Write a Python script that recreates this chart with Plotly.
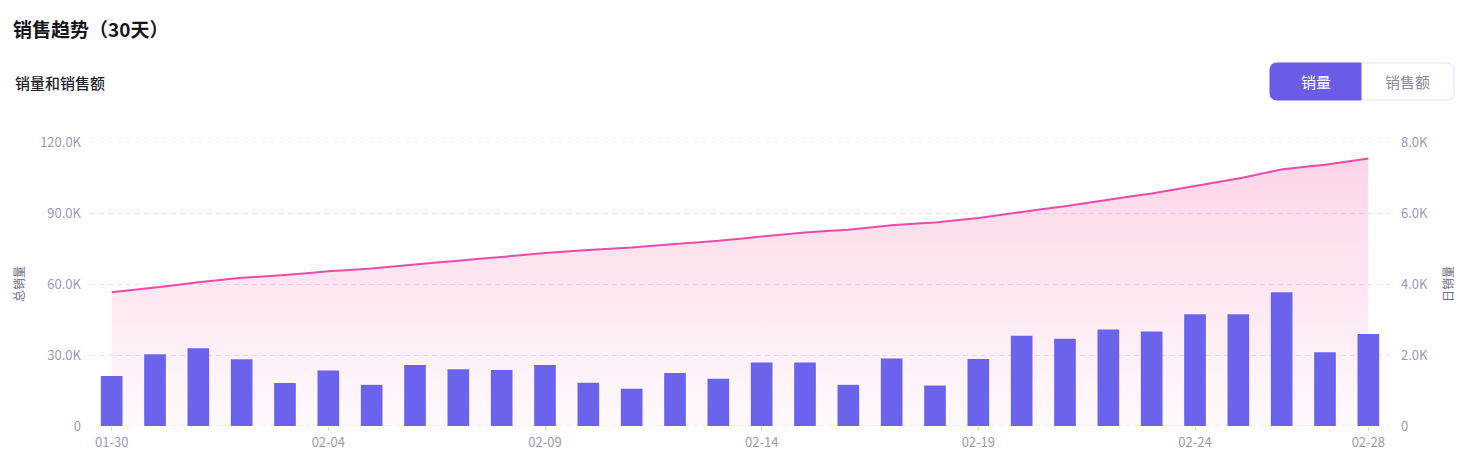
import plotly.graph_objects as go

# ---------------- data ----------------
dates = ["01-30", "01-31", "02-01", "02-02", "02-03", "02-04", "02-05", "02-06",
         "02-07", "02-08", "02-09", "02-10", "02-11", "02-12", "02-13", "02-14",
         "02-15", "02-16", "02-17", "02-18", "02-19", "02-20", "02-21", "02-22",
         "02-23", "02-24", "02-25", "02-26", "02-27", "02-28"]
daily_sales = [1410, 2020, 2190, 1880, 1210, 1560, 1160, 1720, 1600, 1580,
               1720, 1220, 1050, 1490, 1330, 1790, 1790, 1160, 1900, 1140,
               1890, 2540, 2460, 2720, 2660, 3150, 3150, 3770, 2080, 2590]
total_sales = [56500, 58520, 60710, 62590, 63800, 65360, 66520, 68240, 69840, 71420,
               73140, 74360, 75410, 76900, 78230, 80020, 81810, 82970, 84870, 86010,
               87900, 90440, 92900, 95620, 98280, 101430, 104580, 108350, 110430, 113020]
x_tick_labels = ["01-30", "02-04", "02-09", "02-14", "02-19", "02-24", "02-28"]
left_tick_vals = [0, 30000, 60000, 90000, 120000]
left_tick_text = ["0", "30.0K", "60.0K", "90.0K", "120.0K"]
right_tick_vals = [0, 2000, 4000, 6000, 8000]
right_tick_text = ["0", "2.0K", "4.0K", "6.0K", "8.0K"]

title_text = "销售趋势（30天）"
subtitle_text = "销量和销售额"
left_axis_title = "总销量"
right_axis_title = "日销量"
button_labels = ["销量", "销售额"]

# ---------------- geometry ----------------
FW, FH = 1460, 473
ML, MR, MT, MB = 90, 70, 142, 47
PW, PH = FW - ML - MR, FH - MT - MB
FONT = "Noto Sans CJK SC, Noto Sans, sans-serif"
TICK_COLOR = "#9b99b4"
GRID_COLOR = "#e6e4f2"
GRID_DASH = "5px,4px"


def px(x):
    return (x - ML) / PW


def py(y):
    return (FH - MB - y) / PH


def rounded_rect(x0, y0, x1, y1, rl, rr):
    # pixel coords (y down) -> paper path; rl/rr radii for left / right corners
    def P(x, y):
        return f"{px(x):.5f},{py(y):.5f}"
    d = f"M{P(x0 + rl, y0)} L{P(x1 - rr, y0)} "
    d += f"Q{P(x1, y0)} {P(x1, y0 + rr)} " if rr else ""
    d += f"L{P(x1, y1 - rr)} "
    d += f"Q{P(x1, y1)} {P(x1 - rr, y1)} " if rr else ""
    d += f"L{P(x0 + rl, y1)} "
    d += f"Q{P(x0, y1)} {P(x0, y1 - rl)} " if rl else ""
    d += f"L{P(x0, y0 + rl)} "
    d += f"Q{P(x0, y0)} {P(x0 + rl, y0)} " if rl else ""
    return d + "Z"


fig = go.Figure()

fig.add_trace(go.Scatter(
    x=dates, y=total_sales, name=left_axis_title, mode="lines",
    line=dict(color="#ee4aa6", width=2, shape="spline", smoothing=0.4),
    fill="tozeroy",
    fillgradient=dict(type="vertical", start=0, stop=120000,
                      colorscale=[[0, "rgba(240,80,160,0.03)"],
                                  [1, "rgba(240,80,160,0.25)"]]),
    yaxis="y", hoverinfo="skip",
))

fig.add_trace(go.Bar(
    x=dates, y=daily_sales, name=right_axis_title,
    marker=dict(color="#6c63ec", line=dict(width=0)),
    yaxis="y2",
))

# buttons
BX0, BX1, BXM, BY0, BY1, R = 1270, 1454, 1361, 63, 100, 7
shapes = [
    dict(type="path", xref="paper", yref="paper",
         path=rounded_rect(BXM, BY0, BX1, BY1, 0, R),
         fillcolor="#ffffff", line=dict(color="#e4e2f1", width=1)),
    dict(type="path", xref="paper", yref="paper",
         path=rounded_rect(BX0, BY0, BXM, BY1, R, 0),
         fillcolor="#6b5ce7", line=dict(color="#6b5ce7", width=1)),
]
# dashed grid lines at the range edges (plotly skips them)
for v in (left_tick_vals[0], left_tick_vals[-1]):
    shapes.append(dict(type="line", xref="paper", yref="y", x0=0, x1=1, y0=v, y1=v,
                       layer="below", line=dict(color=GRID_COLOR, width=1, dash=GRID_DASH)))

annotations = [
    dict(text=subtitle_text, xref="paper", yref="paper", x=px(13), y=py(82),
         xanchor="left", yanchor="middle", showarrow=False,
         font=dict(family=FONT, size=15, color="#1f1f2b", weight=500)),
    dict(text=left_axis_title, xref="paper", yref="paper", x=px(18), y=0.5,
         xanchor="center", yanchor="middle", textangle=-90, showarrow=False,
         font=dict(family=FONT, size=12, color="#6f6e7e")),
    dict(text=right_axis_title, xref="paper", yref="paper", x=px(1447), y=0.5,
         xanchor="center", yanchor="middle", textangle=-90, showarrow=False,
         font=dict(family=FONT, size=12, color="#6f6e7e")),
    dict(text=button_labels[0], xref="paper", yref="paper", x=px((BX0 + BXM) / 2),
         y=py((BY0 + BY1) / 2), xanchor="center", yanchor="middle", showarrow=False,
         font=dict(family=FONT, size=15, color="#ffffff")),
    dict(text=button_labels[1], xref="paper", yref="paper", x=px((BXM + BX1) / 2),
         y=py((BY0 + BY1) / 2), xanchor="center", yanchor="middle", showarrow=False,
         font=dict(family=FONT, size=15, color="#8b8a98")),
]

fig.update_layout(
    width=FW, height=FH,
    margin=dict(l=ML, r=MR, t=MT, b=MB, pad=0),
    paper_bgcolor="#ffffff", plot_bgcolor="#ffffff",
    font=dict(family=FONT, size=13, color=TICK_COLOR),
    showlegend=False,
    bargap=0.5,
    title=dict(text=title_text, xref="container", yref="container",
               x=13 / FW, y=1 - 30 / FH, xanchor="left", yanchor="middle",
               font=dict(family=FONT, size=19, color="#16161f", weight="bold")),
    xaxis=dict(
        type="category", categoryorder="array", categoryarray=dates,
        range=[-0.5, len(dates) - 0.5],
        tickmode="array", tickvals=x_tick_labels, ticktext=x_tick_labels,
        ticks="outside", ticklen=4, tickwidth=1, tickcolor="#d8d6e6",
        ticklabelstandoff=0,
        showgrid=False, showline=False, zeroline=False,
        tickfont=dict(family=FONT, size=13, color=TICK_COLOR),
        fixedrange=True,
    ),
    yaxis=dict(
        range=[0, 120000], tickmode="array", tickvals=left_tick_vals,
        ticktext=left_tick_text, ticks="", ticklabelstandoff=8,
        showgrid=True, gridcolor=GRID_COLOR, gridwidth=1, griddash=GRID_DASH,
        zeroline=False, showline=False,
        tickfont=dict(family=FONT, size=13, color=TICK_COLOR),
        fixedrange=True,
    ),
    yaxis2=dict(
        range=[0, 8000], overlaying="y", side="right", tickmode="array",
        tickvals=right_tick_vals, ticktext=right_tick_text, ticks="",
        ticklabelstandoff=10, showgrid=False, zeroline=False, showline=False,
        tickfont=dict(family=FONT, size=13, color=TICK_COLOR),
        fixedrange=True,
    ),
    shapes=shapes,
    annotations=annotations,
)

fig.write_html("out.html", config={"displayModeBar": False},
               post_script="document.body.style.margin='0';document.body.style.overflow='hidden';")
